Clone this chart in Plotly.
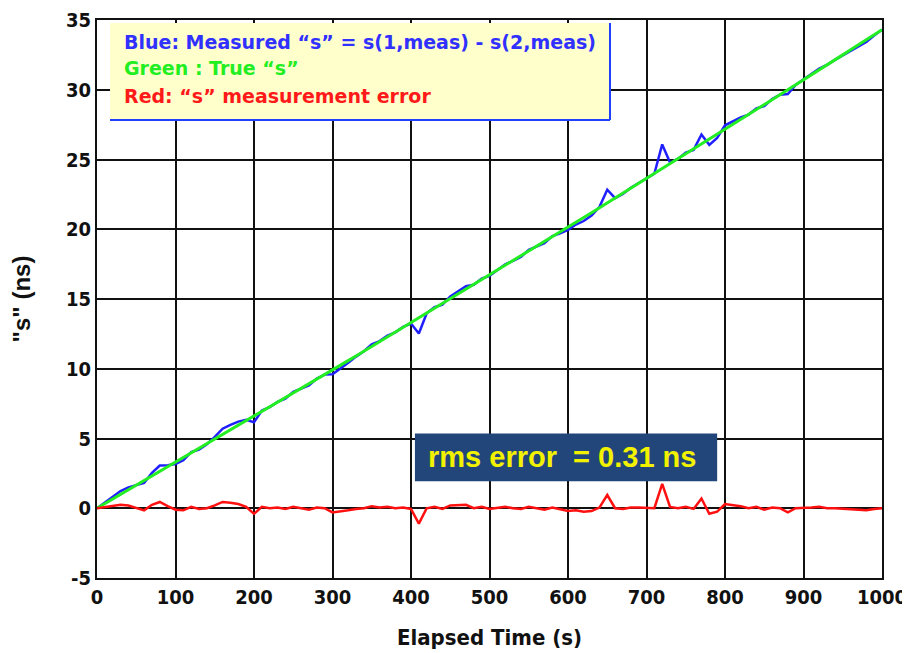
import plotly.graph_objects as go

# ---- data ----
time_s = list(range(0, 1001, 10))

true_s = [0.00, 0.33, 0.65, 0.98, 1.30, 1.63, 1.96, 2.28, 2.61, 2.94,
          3.27, 3.60, 3.93, 4.26, 4.59, 4.92, 5.25, 5.58, 5.91, 6.24,
          6.57, 6.90, 7.24, 7.57, 7.90, 8.24, 8.57, 8.91, 9.24, 9.58,
          9.91, 10.25, 10.58, 10.92, 11.26, 11.60, 11.93, 12.27, 12.61, 12.95,
          13.29, 13.63, 13.97, 14.31, 14.65, 14.99, 15.33, 15.67, 16.02, 16.36,
          16.70, 17.04, 17.39, 17.73, 18.07, 18.42, 18.76, 19.11, 19.46, 19.80,
          20.15, 20.49, 20.84, 21.19, 21.54, 21.89, 22.23, 22.58, 22.93, 23.28,
          23.63, 23.98, 24.33, 24.68, 25.04, 25.39, 25.74, 26.09, 26.45, 26.80,
          27.15, 27.51, 27.86, 28.22, 28.57, 28.93, 29.28, 29.64, 29.99, 30.35,
          30.71, 31.07, 31.42, 31.78, 32.14, 32.50, 32.86, 33.22, 33.58, 33.94,
          34.30]

error_s = [0.00, 0.10, 0.20, 0.25, 0.20, 0.05, -0.15, 0.25, 0.45, 0.15,
           -0.10, -0.15, 0.10, -0.05, 0.00, 0.20, 0.45, 0.40, 0.30, 0.10,
           -0.40, 0.10, 0.00, 0.05, -0.05, 0.10, 0.00, -0.10, 0.05, 0.00,
           -0.30, -0.25, -0.15, -0.05, 0.00, 0.15, 0.05, 0.10, 0.00, 0.05,
           -0.05, -1.10, 0.00, 0.10, -0.05, 0.20, 0.25, 0.25, 0.00, 0.10,
           -0.05, 0.00, 0.10, 0.00, -0.05, 0.10, 0.00, -0.10, 0.05, -0.10,
           -0.20, -0.15, -0.25, -0.20, 0.05, 0.95, 0.00, -0.05, 0.05, 0.05,
           0.00, 0.00, 1.75, 0.10, 0.00, 0.10, -0.05, 0.70, -0.40, -0.25,
           0.30, 0.25, 0.15, 0.00, 0.10, -0.10, 0.05, 0.00, -0.30, 0.00,
           0.00, 0.05, 0.10, 0.00, 0.00, -0.05, -0.10, -0.15, -0.15, -0.05,
           0.00]

measured_s = [t + e for t, e in zip(true_s, error_s)]

x_ticks = list(range(0, 1001, 100))
y_ticks = list(range(-5, 36, 5))

legend_lines = [
    ("Blue: Measured \u201cs\u201d = s(1,meas) - s(2,meas)", "#3030ff"),
    ("Green : True \u201cs\u201d", "#22ee22"),
    ("Red: \u201cs\u201d measurement error", "#ff1a1a"),
]
rms_text = "rms error &nbsp;= 0.31 ns"

WIDE = "DejaVu Sans, Verdana, sans-serif"
BOLD = "Liberation Sans, Arial, sans-serif"
COND = "DejaVu Sans Condensed, Liberation Sans Narrow, Arial Narrow, sans-serif"

fig = go.Figure()
fig.add_trace(go.Scatter(x=time_s, y=measured_s, mode="lines",
                         line=dict(color="#2020ff", width=2.5), showlegend=False))
fig.add_trace(go.Scatter(x=time_s, y=true_s, mode="lines",
                         line=dict(color="#22ee22", width=3), showlegend=False))
fig.add_trace(go.Scatter(x=time_s, y=error_s, mode="lines",
                         line=dict(color="#ff1010", width=2.5), showlegend=False))

# legend box (paper coords)
fig.add_shape(type="rect", xref="paper", yref="paper", x0=0.0166, x1=0.6535,
              y0=0.8208, y1=0.9946, fillcolor="#ffffcc", line=dict(width=0), layer="above")
fig.add_shape(type="line", xref="paper", yref="paper", x0=0.0166, x1=0.6535,
              y0=0.8208, y1=0.8208, line=dict(color="#2040ff", width=2), layer="above")
fig.add_shape(type="line", xref="paper", yref="paper", x0=0.6535, x1=0.6535,
              y0=0.8208, y1=0.9946, line=dict(color="#2040ff", width=2), layer="above")

ys = [0.961, 0.914, 0.864]
for (txt, col), yy in zip(legend_lines, ys):
    fig.add_annotation(xref="paper", yref="paper", x=0.0318, y=yy, text="<b>%s</b>" % txt,
                       showarrow=False, xanchor="left", yanchor="middle",
                       font=dict(family=WIDE, size=19, color=col))

# rms box
fig.add_shape(type="rect", xref="x", yref="y", x0=405, x1=790, y0=1.93, y1=5.36,
              fillcolor="#22467a", line=dict(width=0), layer="above")
fig.add_annotation(xref="x", yref="y", x=592, y=3.65, text="<b>%s</b>" % rms_text,
                   showarrow=False, xanchor="center", yanchor="middle",
                   font=dict(family=BOLD, size=29, color="#f2f200"))

# page has an 8px body margin: figure shrunk and margins shifted so the
# plot area sits at the reference's pixel position
fig.update_layout(
    width=902, height=645,
    margin=dict(l=89, r=28, t=12, b=75, autoexpand=False),
    paper_bgcolor="white", plot_bgcolor="white",
    font=dict(family=BOLD, color="#111111"),
    showlegend=False,
)
fig.update_xaxes(range=[0, 1000], tickvals=x_ticks, ticktext=["<b>%d</b>" % v for v in x_ticks],
                 tickfont=dict(family=COND, size=20, color="#111111"),
                 showgrid=True, gridcolor="#111111", gridwidth=2,
                 showline=True, linecolor="#111111", linewidth=2, mirror=True,
                 ticks="", zeroline=False, automargin=False,
                 title=dict(text="<b>Elapsed Time (s)</b>", font=dict(family=COND, size=22, color="#111111"),
                            standoff=22))
fig.update_yaxes(range=[-5, 35], tickvals=y_ticks, ticktext=["<b>%d</b>" % v for v in y_ticks],
                 tickfont=dict(family=COND, size=20, color="#111111"),
                 showgrid=True, gridcolor="#111111", gridwidth=2,
                 showline=True, linecolor="#111111", linewidth=2, mirror=True,
                 ticks="", zeroline=False, automargin=False,
                 title=dict(text="<b>\"s\" (ns)</b>", font=dict(family=BOLD, size=24, color="#111111"),
                            standoff=32))

fig.write_html("out.html")
